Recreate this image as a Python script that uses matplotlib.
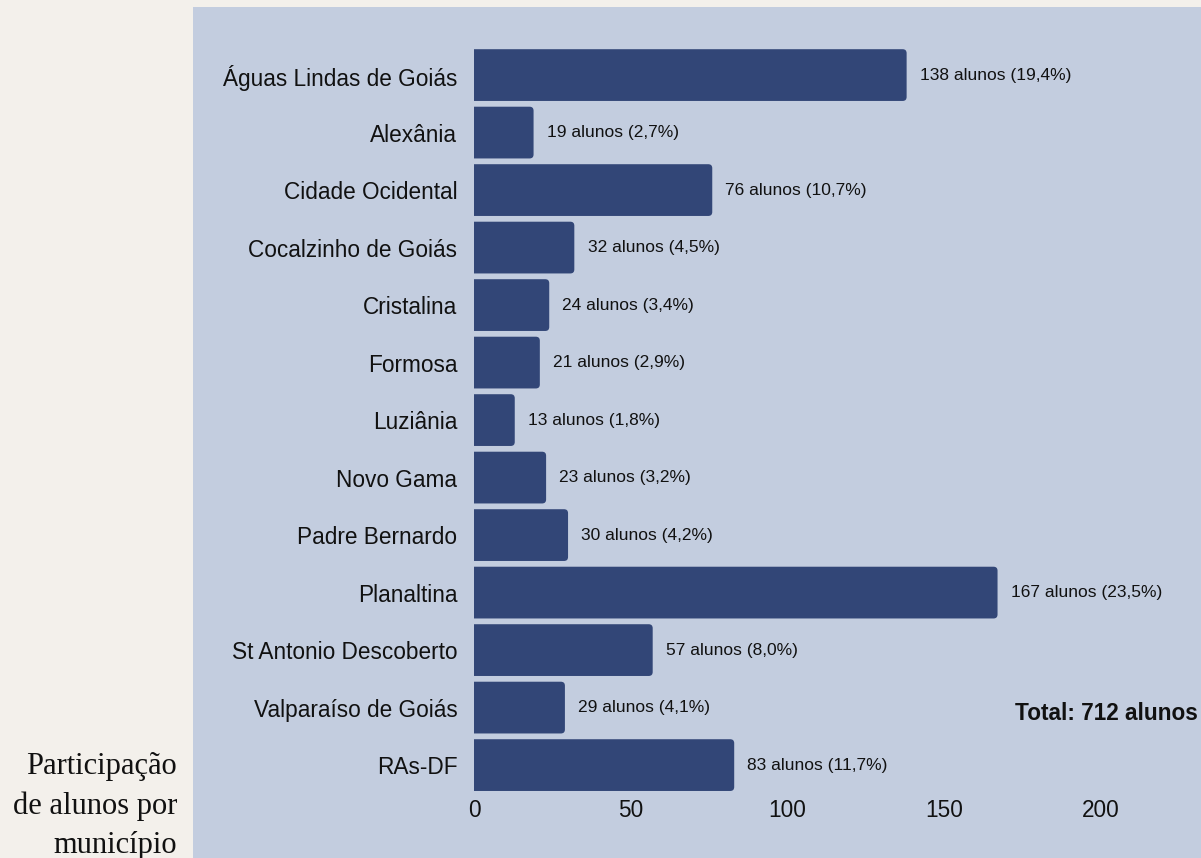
import matplotlib
matplotlib.use('Agg')
import matplotlib.pyplot as plt
from matplotlib.patches import Rectangle, FancyBboxPatch

municipios = ['Águas Lindas de Goiás', 'Alexânia', 'Cidade Ocidental', 'Cocalzinho de Goiás',
              'Cristalina', 'Formosa', 'Luziânia', 'Novo Gama', 'Padre Bernardo',
              'Planaltina', 'St Antonio Descoberto', 'Valparaíso de Goiás', 'RAs-DF']
alunos = [138, 19, 76, 32, 24, 21, 13, 23, 30, 167, 57, 29, 83]
percentuais = ['19,4', '2,7', '10,7', '4,5', '3,4', '2,9', '1,8', '3,2', '4,2', '23,5', '8,0', '4,1', '11,7']
total = 712

W, H = 1201, 858
cor_barra = '#324677'
plt.rcParams['font.family'] = ['Liberation Sans', 'DejaVu Sans']

fig = plt.figure(figsize=(W / 100, H / 100), dpi=100)
fig.patch.set_facecolor('#f3f0eb')
fig.patches.append(Rectangle((193 / W, 0), 1 - 193 / W, 1 - 7 / H,
                             transform=fig.transFigure, facecolor='#c3cddf',
                             edgecolor='none', zorder=-10))

ax = fig.add_axes([474 / W, 1 - 795 / H, 1 - 474 / W, (795 - 40) / H])
ax.set_facecolor('none')
ax.set_xlim(0, 231.9)
ax.set_ylim(12.52, -0.61)

y = list(range(len(municipios)))
bars = ax.barh(y, alunos, height=0.9, color=cor_barra)

# cantos arredondados só do lado direito (o lado esquerdo fica fora do eixo e é cortado)
px_x = 3.135   # px por aluno
px_y = 57.5    # px por linha
r = 4 / px_x
for b in bars:
    x0, y0 = b.get_x(), b.get_y()
    w, h = b.get_width(), b.get_height()
    b.set_visible(False)
    ax.add_patch(FancyBboxPatch((x0 - 2 * r, y0), w + 2 * r, h,
                                boxstyle=f'round,pad=0,rounding_size={r}',
                                mutation_aspect=px_x / px_y,
                                facecolor=cor_barra, edgecolor='none'))

for i, (v, p) in enumerate(zip(alunos, percentuais)):
    ax.annotate(f'{v} alunos ({p}%)', (v, i), xytext=(9.5, 0), textcoords='offset points',
                va='center', ha='left', fontsize=12.5, color='#111111')

ax.set_yticks(y)
ax.set_yticklabels(municipios, fontsize=16.3, color='#111111')
ax.set_xticks([0, 50, 100, 150, 200])
ax.tick_params(axis='x', labelsize=16.3, colors='#111111', length=0, pad=3)
ax.tick_params(axis='y', length=0, pad=12)
for s in ax.spines.values():
    s.set_visible(False)

fig.text(1198 / W, 1 - 713 / H, f'Total: {total} alunos', ha='right', va='center',
         fontsize=16.3, fontweight='bold', color='#111111')

fig.text(177 / W, 1 - 806 / H, 'Participação\nde alunos por\nmunicípio', ha='right', va='center',
         fontsize=22, family=['Liberation Serif', 'DejaVu Serif'], color='#111111',
         linespacing=1.45)

fig.savefig('out.png', dpi=100, facecolor=fig.get_facecolor())
